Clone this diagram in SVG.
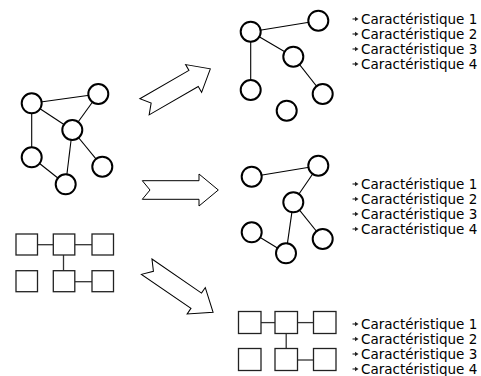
<svg xmlns="http://www.w3.org/2000/svg" xmlns:xlink="http://www.w3.org/1999/xlink" width="481" height="376" viewBox="0 0 481 376">
  <style>
    .node { fill: #fff; stroke: #000; stroke-width: 2; }
    .box { fill: #fff; stroke: #222; stroke-width: 1.3; }
    .edge { stroke: #000; stroke-width: 1.1; fill: none; }
    .bedge { stroke: #333; stroke-width: 1.3; fill: none; }
    .flow { fill: #fff; stroke: #000; stroke-width: 1; stroke-linejoin: miter; }
    .lbl { font-family: "DejaVu Sans", sans-serif; font-size: 13.5px; fill: #000; }
    .bul { fill: #222; stroke: #222; stroke-width: 1; }
  </style>
  <defs>
    <!-- block arrow, tail notch at origin, pointing along +x -->
    <polygon id="blockArrow" points="0,-9.3 56.7,-9.3 56.7,-16 76,0 56.7,16 56.7,9.3 0,9.3 7.7,0"/>
    <!-- small list bullet -->
    <g id="bullet">
      <line x1="0" y1="0" x2="3" y2="0" stroke-width="1.1"/>
      <polygon points="2.5,-2.2 6,0 2.5,2.2" stroke="none"/>
    </g>
  </defs>

  <!-- connectors -->
  <g id="connectors">
    <!-- left graph -->
    <line class="edge" x1="31.7" y1="103.3" x2="98.3" y2="94"/>
    <line class="edge" x1="31.7" y1="103.3" x2="72.3" y2="130"/>
    <line class="edge" x1="31.7" y1="103.3" x2="31.7" y2="157.3"/>
    <line class="edge" x1="98.3" y1="94" x2="72.3" y2="130"/>
    <line class="edge" x1="72.3" y1="130" x2="102.3" y2="166.7"/>
    <line class="edge" x1="72.3" y1="130" x2="65.7" y2="184.3"/>
    <line class="edge" x1="31.7" y1="157.3" x2="65.7" y2="184.3"/>
    <!-- top right graph -->
    <line class="edge" x1="250.7" y1="31.7" x2="318.3" y2="20.7"/>
    <line class="edge" x1="250.7" y1="31.7" x2="293.3" y2="56.7"/>
    <line class="edge" x1="250.7" y1="31.7" x2="250.7" y2="90"/>
    <line class="edge" x1="293.3" y1="56.7" x2="322.7" y2="94"/>
    <!-- middle right graph -->
    <line class="edge" x1="251.7" y1="176.7" x2="318.3" y2="165.7"/>
    <line class="edge" x1="318.3" y1="165.7" x2="293.3" y2="202.3"/>
    <line class="edge" x1="293.3" y1="202.3" x2="322.7" y2="239"/>
    <line class="edge" x1="293.3" y1="202.3" x2="286" y2="253.3"/>
    <line class="edge" x1="251.7" y1="232.3" x2="286" y2="253.3"/>
    <!-- left grid -->
    <line class="bedge" x1="37.5" y1="244.7" x2="53.3" y2="244.7"/>
    <line class="bedge" x1="74.8" y1="244.7" x2="92" y2="244.7"/>
    <line class="bedge" x1="63.5" y1="255" x2="63.5" y2="270.7"/>
    <line class="bedge" x1="74.8" y1="281.7" x2="92" y2="281.7"/>
    <!-- bottom right grid -->
    <line class="bedge" x1="261" y1="322.6" x2="275" y2="322.6"/>
    <line class="bedge" x1="297.5" y1="322.6" x2="313.5" y2="322.6"/>
    <line class="bedge" x1="286.2" y1="333.5" x2="286.2" y2="348.5"/>
    <line class="bedge" x1="297.5" y1="360" x2="313.5" y2="360"/>
  </g>

  <!-- transition arrows -->
  <g id="arrows">
    <use xlink:href="#blockArrow" class="flow" transform="translate(144.5,106.8) rotate(-30)"/>
    <use xlink:href="#blockArrow" class="flow" transform="translate(142.3,190)"/>
    <use xlink:href="#blockArrow" class="flow" transform="translate(146.7,266.7) rotate(34.5) scale(1.06,1)"/>
  </g>

  <!-- left graph nodes -->
  <g id="left-graph">
    <circle id="la" class="node" cx="31.7" cy="103.3" r="10"/>
    <circle id="lb" class="node" cx="98.3" cy="94" r="10"/>
    <circle id="lc" class="node" cx="72.3" cy="130" r="10"/>
    <circle id="ld" class="node" cx="31.7" cy="157.3" r="10"/>
    <circle id="le" class="node" cx="102.3" cy="166.7" r="10"/>
    <circle id="lf" class="node" cx="65.7" cy="184.3" r="10"/>
  </g>

  <!-- top right graph nodes -->
  <g id="top-graph">
    <circle id="ta" class="node" cx="250.7" cy="31.7" r="10"/>
    <circle id="tb" class="node" cx="318.3" cy="20.7" r="10"/>
    <circle id="tc" class="node" cx="293.3" cy="56.7" r="10"/>
    <circle id="td" class="node" cx="250.7" cy="90" r="10"/>
    <circle id="te" class="node" cx="322.7" cy="94" r="10"/>
    <circle id="tf" class="node" cx="286.7" cy="110.7" r="10"/>
  </g>

  <!-- middle right graph nodes -->
  <g id="mid-graph">
    <circle id="ma" class="node" cx="251.7" cy="176.7" r="10"/>
    <circle id="mb" class="node" cx="318.3" cy="165.7" r="10"/>
    <circle id="mc" class="node" cx="293.3" cy="202.3" r="10"/>
    <circle id="md" class="node" cx="251.7" cy="232.3" r="10"/>
    <circle id="me" class="node" cx="322.7" cy="239" r="10"/>
    <circle id="mf" class="node" cx="286" cy="253.3" r="10"/>
  </g>

  <!-- left grid boxes -->
  <g id="left-grid">
    <rect id="g1" class="box" x="16" y="234" width="21.5" height="21"/>
    <rect id="g2" class="box" x="53.3" y="234" width="21.5" height="21"/>
    <rect id="g3" class="box" x="92" y="234" width="21.5" height="21"/>
    <rect id="g4" class="box" x="16" y="270.7" width="21.5" height="21"/>
    <rect id="g5" class="box" x="53.3" y="270.7" width="21.5" height="21"/>
    <rect id="g6" class="box" x="92" y="270.7" width="21.5" height="21"/>
  </g>

  <!-- bottom right grid boxes -->
  <g id="bottom-grid">
    <rect id="h1" class="box" x="238.5" y="311.5" width="22.5" height="22"/>
    <rect id="h2" class="box" x="275" y="311.5" width="22.5" height="22"/>
    <rect id="h3" class="box" x="313.5" y="311.5" width="22.5" height="22"/>
    <rect id="h4" class="box" x="238.5" y="348.5" width="22.5" height="22"/>
    <rect id="h5" class="box" x="275" y="348.5" width="22.5" height="22"/>
    <rect id="h6" class="box" x="313.5" y="348.5" width="22.5" height="22"/>
  </g>

  <!-- feature lists -->
  <g id="list-top">
    <use xlink:href="#bullet" class="bul" x="352.5" y="19"/>
    <use xlink:href="#bullet" class="bul" x="352.5" y="34"/>
    <use xlink:href="#bullet" class="bul" x="352.5" y="49"/>
    <use xlink:href="#bullet" class="bul" x="352.5" y="64"/>
    <text class="lbl" x="361" y="23.5">Caractéristique 1</text>
    <text class="lbl" x="361" y="38.5">Caractéristique 2</text>
    <text class="lbl" x="361" y="53.5">Caractéristique 3</text>
    <text class="lbl" x="361" y="68.5">Caractéristique 4</text>
  </g>
  <g id="list-mid">
    <use xlink:href="#bullet" class="bul" x="352.5" y="184"/>
    <use xlink:href="#bullet" class="bul" x="352.5" y="199"/>
    <use xlink:href="#bullet" class="bul" x="352.5" y="214"/>
    <use xlink:href="#bullet" class="bul" x="352.5" y="229"/>
    <text class="lbl" x="361" y="188.5">Caractéristique 1</text>
    <text class="lbl" x="361" y="203.5">Caractéristique 2</text>
    <text class="lbl" x="361" y="218.5">Caractéristique 3</text>
    <text class="lbl" x="361" y="233.5">Caractéristique 4</text>
  </g>
  <g id="list-bottom">
    <use xlink:href="#bullet" class="bul" x="352.5" y="324"/>
    <use xlink:href="#bullet" class="bul" x="352.5" y="339"/>
    <use xlink:href="#bullet" class="bul" x="352.5" y="354"/>
    <use xlink:href="#bullet" class="bul" x="352.5" y="369"/>
    <text class="lbl" x="361" y="328.5">Caractéristique 1</text>
    <text class="lbl" x="361" y="343.5">Caractéristique 2</text>
    <text class="lbl" x="361" y="358.5">Caractéristique 3</text>
    <text class="lbl" x="361" y="373.5">Caractéristique 4</text>
  </g>
</svg>
